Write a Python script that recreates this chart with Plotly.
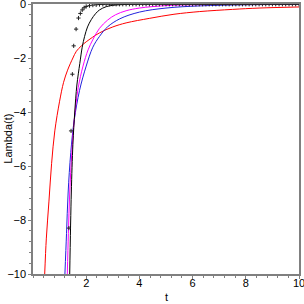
import plotly.graph_objects as go

# Black solid curve
t_black = [1.38, 1.44, 1.5, 1.57, 1.65, 1.76, 1.85, 1.94, 2.05, 2.19, 2.35, 2.5, 2.75, 3.0, 3.5, 4.0, 5.0, 6.0, 8.0, 10.0]
y_black = [-10, -7.0, -5.2, -4.0, -3.0, -2.2, -1.6, -1.2, -0.85, -0.58, -0.36, -0.22, -0.1, -0.05, -0.015, 0, 0, 0, 0, 0]

# Magenta curve
t_mag = [1.29, 1.33, 1.38, 1.46, 1.55, 1.7, 1.88, 2.07, 2.26, 2.5, 2.8, 3.1, 3.5, 4.0, 5.0, 6.0, 8.0, 10.0]
y_mag = [-10, -8.5, -7.0, -5.5, -4.3, -3.1, -2.3, -1.7, -1.3, -0.9, -0.6, -0.4, -0.25, -0.15, -0.06, -0.03, -0.01, 0]

# Blue curve
t_blue = [1.2, 1.26, 1.32, 1.42, 1.55, 1.75, 2.0, 2.25, 2.5, 2.8, 3.26, 4.0, 5.0, 6.27, 8.0, 10.0]
y_blue = [-10, -8.5, -7.0, -5.5, -4.3, -3.2, -2.3, -1.6, -1.2, -0.85, -0.55, -0.3, -0.15, -0.07, -0.03, -0.01]

# Red curve
t_red = [0.44, 0.5, 0.6, 0.7, 0.82, 1.0, 1.15, 1.3, 1.5, 1.63, 1.82, 2.0, 2.5, 3.0, 3.5, 4.39, 5.3, 6.27, 7.5, 8.5, 10.0]
y_red = [-10, -8.7, -7.3, -5.9, -4.7, -3.6, -2.9, -2.45, -2.0, -1.75, -1.55, -1.4, -1.07, -0.85, -0.7, -0.53, -0.38, -0.28, -0.2, -0.15, -0.11]

# Point samples (crosses)
t_pts = [1.35, 1.43, 1.48, 1.53, 1.62, 1.71, 1.78, 1.85, 1.92, 2.0, 2.125, 2.25, 2.375, 2.5,
         2.625, 2.75, 2.875, 3.0, 3.125, 3.25, 3.375, 3.5, 3.625, 3.75, 3.875, 4.0,
         4.125, 4.25, 4.375, 4.5, 4.625, 4.75, 4.875, 5.0, 5.125, 5.25, 5.375, 5.5,
         5.625, 5.75, 5.875, 6.0, 6.125, 6.25, 6.375, 6.5, 6.625, 6.75, 6.875, 7.0,
         7.125, 7.25, 7.375, 7.5, 7.625, 7.75, 7.875, 8.0, 8.125, 8.25, 8.375, 8.5,
         8.625, 8.75, 8.875, 9.0, 9.125, 9.25, 9.375, 9.5, 9.625, 9.75, 9.875, 10.0]
y_pts = [-8.3, -4.7, -2.6, -1.55, -0.93, -0.52, -0.35, -0.22, -0.14, -0.09, -0.06, -0.04, -0.03, -0.02,
         -0.015, -0.01, -0.01, -0.01, -0.01, -0.01, -0.01, -0.01, -0.01, -0.01, -0.01, -0.01,
         -0.01, -0.01, -0.01, -0.01, -0.01, -0.01, -0.01, -0.01, -0.01, -0.01, -0.01, -0.01,
         -0.01, -0.01, -0.01, -0.01, -0.01, -0.01, -0.01, -0.01, -0.01, -0.01, -0.01, -0.01,
         -0.01, -0.01, -0.01, -0.01, -0.01, -0.01, -0.01, -0.01, -0.01, -0.01, -0.01, -0.01,
         -0.01, -0.01, -0.01, -0.01, -0.01, -0.01, -0.01, -0.01, -0.01, -0.01, -0.01, -0.01]

x_tickvals = [2, 4, 6, 8, 10]
y_tickvals = [-10, -8, -6, -4, -2, 0]

fig = go.Figure()
fig.add_trace(go.Scatter(x=t_red, y=y_red, mode="lines", line=dict(color="#ff0000", width=1, shape="spline")))
fig.add_trace(go.Scatter(x=t_blue, y=y_blue, mode="lines", line=dict(color="#2222dd", width=1, shape="spline")))
fig.add_trace(go.Scatter(x=t_mag, y=y_mag, mode="lines", line=dict(color="#ff00ff", width=1, shape="spline")))
fig.add_trace(go.Scatter(x=t_black, y=y_black, mode="lines", line=dict(color="#000000", width=1, shape="spline")))
fig.add_trace(go.Scatter(x=t_pts, y=y_pts, mode="markers",
                         marker=dict(symbol="cross-thin", size=3, line=dict(color="#222222", width=1))))

font = dict(family="Liberation Sans, Arial, sans-serif", size=11, color="#000000")
axis_common = dict(showline=True, linecolor="#808080", linewidth=1.5, mirror=True,
                   showgrid=False, zeroline=False, ticks="outside", ticklen=3,
                   tickcolor="#808080", tickfont=font, automargin=False,
                   ticklabeloverflow="allow")

fig.update_xaxes(range=[0, 10], tickvals=x_tickvals, ticktext=[str(v) for v in x_tickvals],
                 ticklabelstandoff=-5,
                 minor=dict(dtick=0.4, tick0=0, ticklen=2, tickcolor="#808080", ticks="outside"),
                 **axis_common)
fig.update_yaxes(range=[-10, 0], tickvals=y_tickvals,
                 ticktext=[("\u2212" + str(-v)) if v < 0 else str(v) for v in y_tickvals],
                 minor=dict(dtick=0.4, tick0=0, ticklen=2, tickcolor="#808080", ticks="outside"),
                 **axis_common)

fig.update_layout(
    width=304, height=304,
    margin=dict(l=33, r=5, t=4, b=30, autoexpand=False),
    paper_bgcolor="white", plot_bgcolor="white",
    showlegend=False,
    font=font,
    annotations=[
        dict(text="t", x=0.5, y=-0.087, xref="paper", yref="paper", showarrow=False,
             xanchor="center", yanchor="middle", font=font),
        dict(text="Lambda(t)", x=-0.095, y=0.5, xref="paper", yref="paper", showarrow=False,
             textangle=-90, xanchor="center", yanchor="middle", font=font),
    ],
)

fig.write_html("out.html", config={"displayModeBar": False},
               post_script="document.body.style.margin='0';document.body.style.overflow='hidden';")
